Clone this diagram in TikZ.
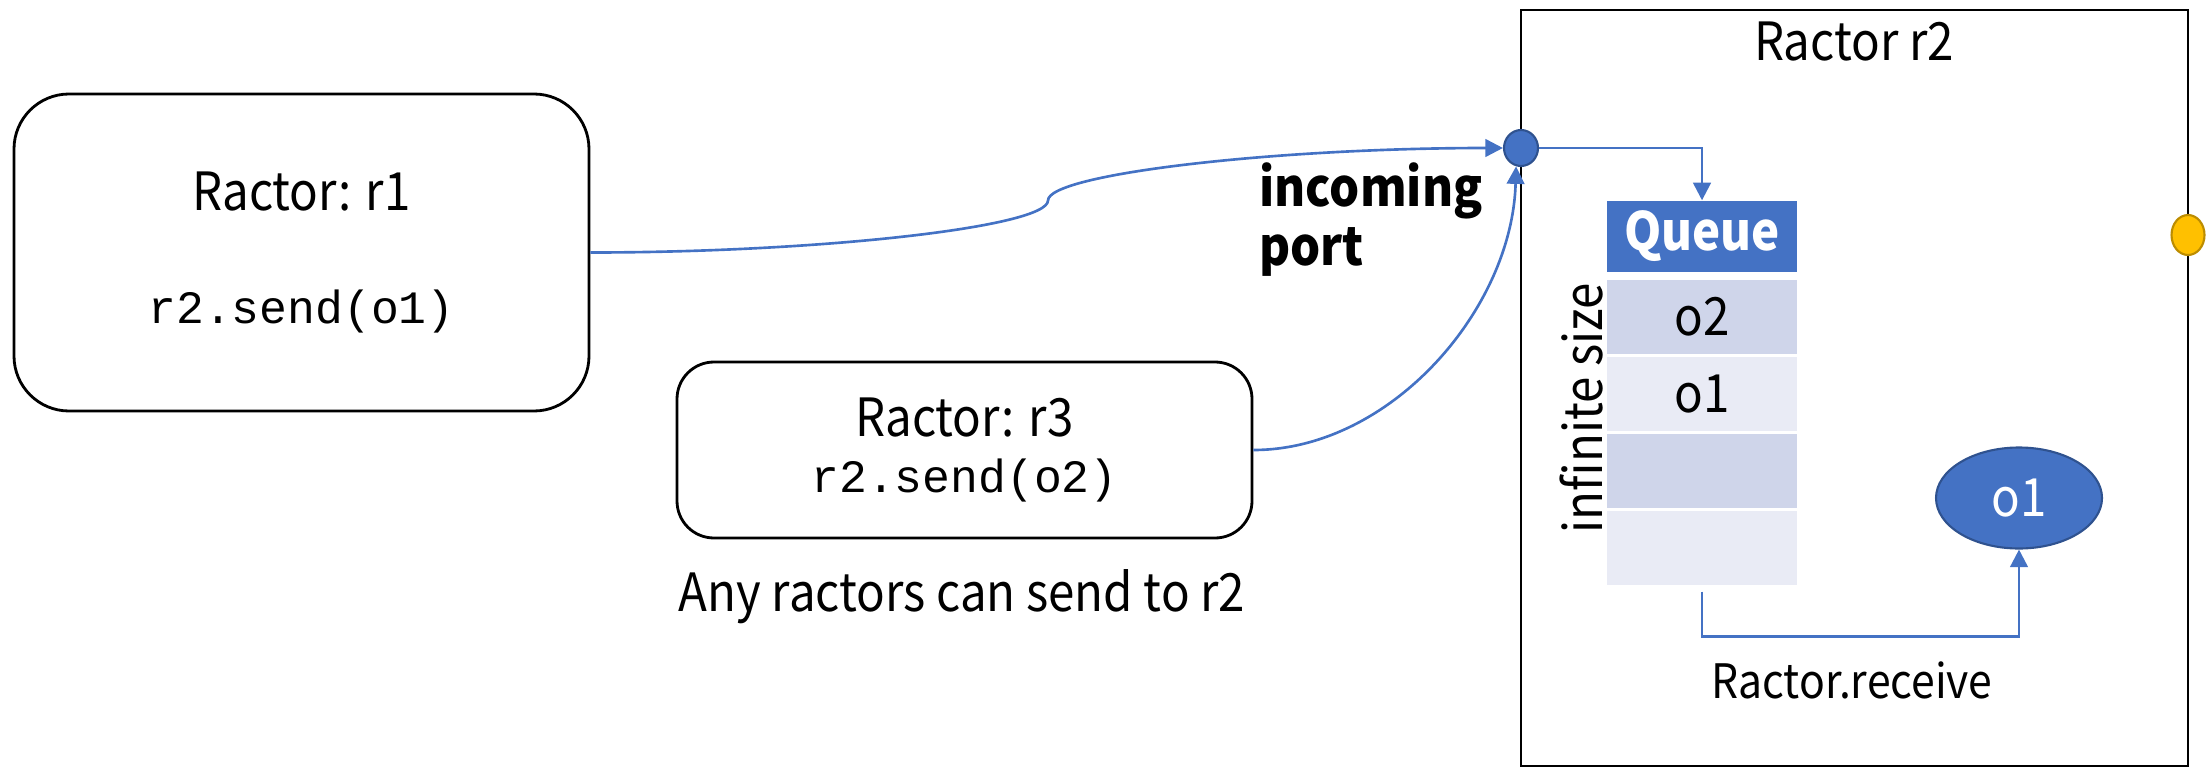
\documentclass[tikz,border=0pt]{standalone}
\usepackage{fontspec}
\setmainfont[FakeStretch=0.9]{Noto Sans CJK JP}
\setmonofont{Liberation Mono}
\usetikzlibrary{arrows.meta, positioning, shapes.geometric}
\definecolor{rblue}{HTML}{4472C4}
\definecolor{rbluedark}{HTML}{2F528F}
\definecolor{rcellA}{HTML}{CFD5EA}
\definecolor{rcellB}{HTML}{E9EBF5}
\definecolor{ryellow}{HTML}{FFC000}
\definecolor{ryellowdark}{HTML}{BC8C00}
\newcommand{\rcode}[1]{{\ttfamily\fontsize{13.2}{16}\selectfont #1}}
\tikzset{
  actorbox/.style={draw=black, line width=0.8pt, fill=white, align=center, inner sep=0pt},
  portdot/.style={ellipse, draw=rbluedark, line width=0.6pt, fill=rblue,
                  minimum width=0.34cm, minimum height=0.36cm, inner sep=0pt},
  outdot/.style={ellipse, draw=ryellowdark, line width=0.6pt, fill=ryellow,
                 minimum width=0.33cm, minimum height=0.40cm, inner sep=0pt},
  qhead/.style={fill=rblue, text=white, font=\fontsize{15}{18}\selectfont\bfseries,
                minimum width=1.90cm, minimum height=0.71cm, inner sep=0pt},
  qcellA/.style={fill=rcellA, minimum width=1.90cm, minimum height=0.74cm, inner sep=0pt},
  qcellB/.style={fill=rcellB, minimum width=1.90cm, minimum height=0.74cm, inner sep=0pt},
  msgbox/.style={ellipse, draw=rbluedark, line width=0.6pt, fill=rblue, text=white,
                 minimum width=1.66cm, minimum height=1.01cm, inner sep=0pt},
  arr/.style={-{Triangle[length=5pt, width=5pt]}, line width=0.75pt, rblue},
}

\begin{document}
\begin{tikzpicture}[every node/.style={font=\fontsize{15}{18}\selectfont}, y=-1cm]
  \useasboundingbox (0,0) rectangle (22.08,7.68);

  % sending ractors
  \node[actorbox, rounded corners=0.55cm, minimum width=5.75cm, minimum height=3.17cm]
    (r1) at (3.015,2.525) {Ractor: r1\\[14pt]\rcode{r2.send(o1)}};
  \node[actorbox, rounded corners=0.37cm, minimum width=5.75cm, minimum height=1.76cm]
    (r3) at (9.645,4.50) {Ractor: r3\\[-2pt]\rcode{r2.send(o2)}};
  \node (anyr) at (9.62,5.97) {Any ractors can send to r2};

  % receiving ractor
  \node[draw=black, line width=0.8pt, minimum width=6.67cm, minimum height=7.56cm]
    (r2) at (18.545,3.88) {};
  \node (r2name) at (18.54,0.42) {Ractor r2};
  \node[portdot] (port) at (15.21,1.48) {};
  \node[outdot] (outport) at (21.88,2.35) {};
  \node[anchor=west, align=left, font=\fontsize{15}{16.8}\selectfont\bfseries]
    (portlbl) at (12.47,2.20) {incoming\\port};

  % queue
  \node[qhead] (queue) at (17.02,2.365) {Queue};
  \node[qcellA] (q1) at (17.02,3.17) {o2};
  \node[qcellB] (q2) at (17.02,3.94) {o1};
  \node[qcellA] (q3) at (17.02,4.71) {};
  \node[qcellB] (q4) at (17.02,5.48) {};
  \node[rotate=90] (qsize) at (15.81,4.08) {infinite size};

  \node[msgbox] (msg) at (20.19,4.98) {o1};
  \node[font=\fontsize{13.5}{16}\selectfont] (recv) at (18.52,6.80) {Ractor.receive};

  % messages
  \coordinate (mid1) at (10.48,2.005);
  \draw[arr] (r1.east) .. controls (8.19,2.525) and (10.48,2.27) .. (mid1)
    .. controls (10.48,1.74) and (12.76,1.48) .. (port.west);
  \draw[arr] (r3.east) .. controls (13.9,4.50) and (15.12,3.1) .. (port.255);
  \draw[arr] (port.east) -| (queue.north);
  \draw[arr] ([yshift=-0.06cm]q4.south) -- ++(0,0.45) -| (msg.south);
\end{tikzpicture}
\end{document}
